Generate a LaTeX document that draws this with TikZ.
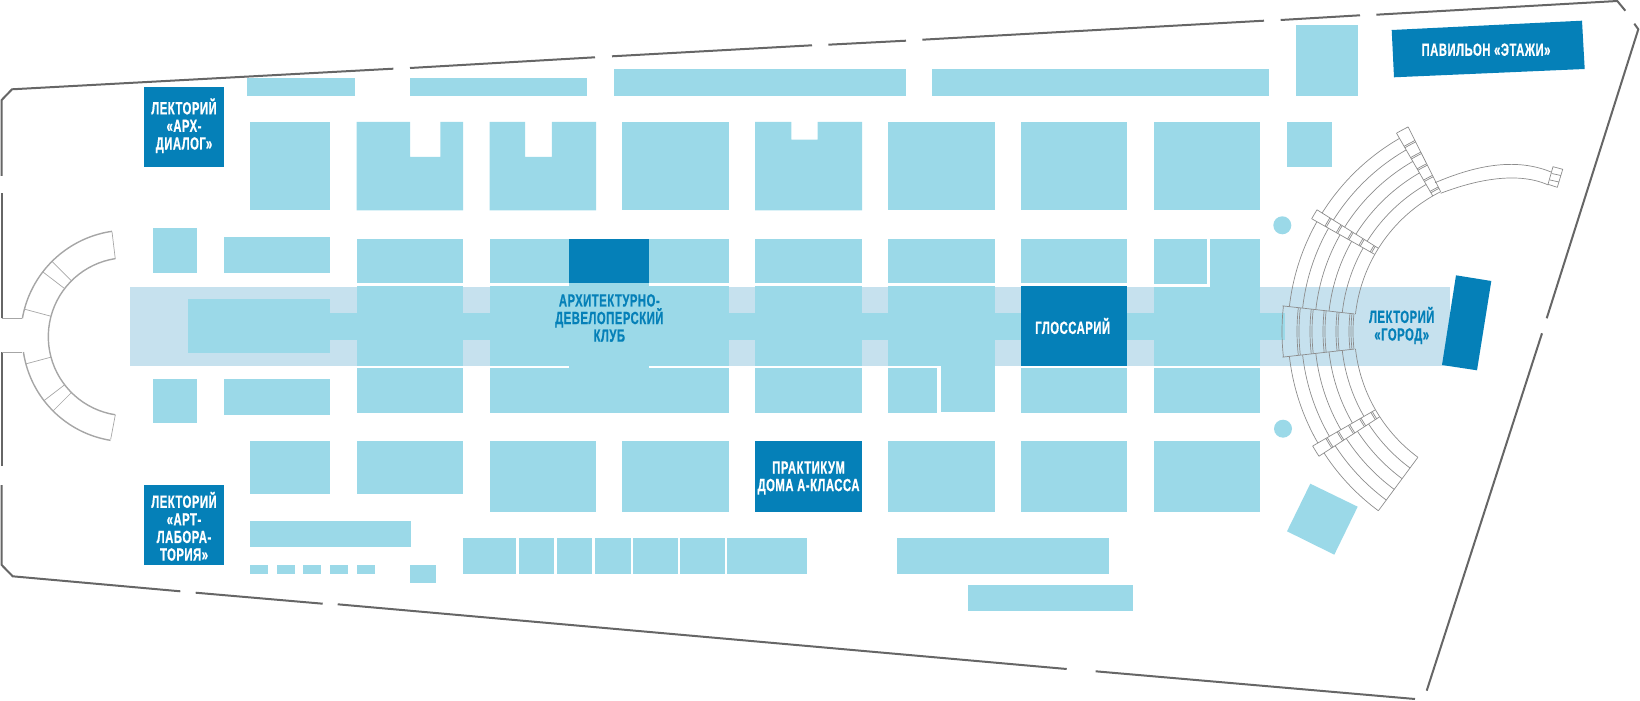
\documentclass[tikz,border=0pt]{standalone}
\usepackage{fontspec}
\setmainfont{Liberation Sans}
\newfontfamily\labfont[FakeStretch=0.64,LetterSpace=3,BoldFeatures={FakeBold=0.7}]{Liberation Sans}
\definecolor{cellblue}{HTML}{9BD9E8}
\definecolor{hallblue}{HTML}{C6E1EE}
\definecolor{darkblue}{HTML}{0580B8}
\definecolor{wallgray}{HTML}{666666}
\definecolor{tiergray}{HTML}{8C8C8C}
\definecolor{armgray}{HTML}{A6A6A6}
\tikzset{
  wall/.style={draw=wallgray,line width=1pt},
  tier/.style={draw=tiergray,line width=0.35pt},
  arm/.style={draw=armgray,line width=0.7pt},
  armthin/.style={draw=armgray,line width=0.35pt},
  whitelab/.style={text=white,font=\labfont\bfseries\fontsize{8.8}{8.8}\selectfont,align=center,inner sep=0pt},
  bluelab/.style={text=darkblue,font=\labfont\bfseries\fontsize{8.8}{8.8}\selectfont,align=center,inner sep=0pt}
}
\newcommand{\cell}[4]{\fill[cellblue] (#1,#2) rectangle (#3,#4);}
\newcommand{\dark}[4]{\fill[darkblue] (#1,#2) rectangle (#3,#4);}
% arcs of the right amphitheatre, image-space angles
\newcommand{\rarc}[3]{\draw[tier] plot[domain=#2:#3,samples=40] ({1511+(#1)*cos(\x)},{331.5+(#1)*sin(\x)});}
\newcommand{\rrad}[3]{\draw[tier] ({1511+(#2)*cos(#1)},{331.5+(#2)*sin(#1)}) -- ({1511+(#3)*cos(#1)},{331.5+(#3)*sin(#1)});}
% arcs of the left amphitheatre
\newcommand{\larc}[4][arm]{\draw[#1] plot[domain=#3:#4,samples=40] ({127.3+(#2)*cos(\x)},{336.7+(#2)*sin(\x)});}
\newcommand{\lrad}[3]{\draw[armthin] ({127.3+(#2)*cos(#1)},{336.7+(#2)*sin(#1)}) -- ({127.3+(#3)*cos(#1)},{336.7+(#3)*sin(#1)});}
\begin{document}
\begin{tikzpicture}[x=0.5pt,y=-0.5pt]
\useasboundingbox (0,0) rectangle (1640,701);
% central hall band
\fill[hallblue] (130,286.7) rectangle (1450,366);
\cell{188}{299}{330}{352.7}
\cell{330}{312.7}{1285}{340}
% top strip
\cell{247.4}{77.7}{354.6}{95.7}
\cell{410}{77.7}{586.8}{95.7}
\cell{613.5}{69}{906}{95.7}
\cell{932}{69}{1269.3}{95.7}
\cell{1295.7}{24.7}{1358}{96}
% row 1
\cell{250}{122}{330}{210.5}
\fill[cellblue] (356.7,122) -- (410,122) -- (410,157) -- (440.4,157) -- (440.4,122) -- (463,122) -- (463,210.5) -- (356.7,210.5) -- cycle;
\fill[cellblue] (489.5,122) -- (525,122) -- (525,157) -- (551.8,157) -- (551.8,122) -- (596,122) -- (596,210.5) -- (489.5,210.5) -- cycle;
\cell{622.4}{122}{729}{210.5}
\fill[cellblue] (755.2,122) -- (791.3,122) -- (791.3,139.7) -- (817.5,139.7) -- (817.5,122) -- (862,122) -- (862,210.5) -- (755.2,210.5) -- cycle;
\cell{888}{122}{994.7}{210.5}
\cell{1021}{122}{1127.3}{210.5}
\cell{1154}{122}{1260.3}{210.5}
\cell{1286.7}{122}{1331.5}{166.7}
% row 2
\cell{153}{228.3}{197.3}{272.7}
\cell{223.7}{237.3}{330}{272.7}
\cell{356.7}{239}{463}{283.3}
\cell{489.5}{239}{729}{283.3}
\cell{755.2}{239}{862}{283.3}
\cell{888}{239}{994.5}{283.3}
\cell{1021}{239}{1127.3}{283.3}
\cell{1154}{239}{1207.3}{284}
\cell{1210}{239}{1260.3}{288}
% band columns
\cell{356.7}{285.7}{463}{366}
\cell{489.5}{285.7}{729}{366}
\cell{569}{283}{649}{368.5}
\cell{755.2}{285.7}{862}{366}
\cell{888}{285.7}{994.5}{366}
\cell{1154}{286.7}{1260.3}{366}
% row 3
\cell{153}{379}{197.3}{423.3}
\cell{223.7}{379}{330}{414.7}
\cell{356.7}{368.3}{463}{412.7}
\cell{489.5}{368.3}{729}{412.7}
\cell{755.2}{368.3}{862}{412.7}
\cell{888}{368.3}{937}{412.7}
\cell{941}{365}{994.5}{412}
\cell{1021}{368.3}{1127.3}{412.7}
\cell{1154}{368.3}{1260.3}{412.7}
% row 4
\cell{250}{441}{330}{494}
\cell{356.7}{441}{463}{494}
\cell{489.5}{441}{596}{512}
\cell{622.2}{441}{728.7}{512}
\cell{888}{441}{994.6}{512}
\cell{1021}{441}{1127.3}{512}
\cell{1154}{441}{1260.3}{512}
% lower rows
\cell{250}{520.7}{411.3}{547.3}
\cell{250}{565}{268}{574}
\cell{277}{565}{295}{574}
\cell{303.3}{565}{321.3}{574}
\cell{330}{565}{348}{574}
\cell{356.7}{565}{374.7}{574}
\cell{410}{565}{436.3}{582.7}
\cell{462.9}{538}{516.2}{574}
\cell{518.5}{538}{554.3}{574}
\cell{557}{538}{592.4}{574}
\cell{594.7}{538}{630.5}{574}
\cell{632.8}{538}{677.8}{574}
\cell{680}{538}{724.6}{574}
\cell{726.9}{538}{806.8}{574}
\cell{896.8}{538}{1109.4}{574}
\cell{968}{585}{1133}{611}
% free shapes
\fill[cellblue] (1282.3,225.3) circle[radius=9];
\fill[cellblue] (1283,428.7) circle[radius=9];
\fill[cellblue] (1310.3,483.7) -- (1357.7,506.7) -- (1334.3,554.7) -- (1287,531.3) -- cycle;
% dark blocks
\dark{144}{86.7}{224}{166.7}
\dark{144}{485}{224}{565}
\dark{569}{238.5}{649}{283.3}
\dark{1021}{286}{1127.3}{366}
\dark{755}{441}{862}{512}
\fill[darkblue] (1456,275.3) -- (1491.3,281) -- (1477,370.3) -- (1442,365) -- cycle;
\fill[darkblue] (1391.7,30) -- (1582,20.7) -- (1584.7,69) -- (1394,77.3) -- cycle;
% walls
\draw[wall] (1.7,176) -- (1.7,100) -- (12,89.3) -- (393.3,68.7);
\draw[wall] (410,68) -- (595,57.3);
\draw[wall] (612,56.3) -- (812,45.3);
\draw[wall] (828.3,44.7) -- (906,40.7);
\draw[wall] (922.3,39.7) -- (1264,20.7);
\draw[wall] (1280.7,20) -- (1360,15.3);
\draw[wall] (1376.3,14.7) -- (1617.3,1) -- (1625.3,10.7);
\draw[wall] (1634.3,23.7) -- (1638.3,29.3) -- (1546.7,318.3);
\draw[wall] (1542,333.3) -- (1426.7,690.7);
\draw[wall] (1415,699) -- (1095.6,671.3);
\draw[wall] (1066.7,669) -- (337.7,604.3);
\draw[wall] (322.7,603.7) -- (195.7,592.7);
\draw[wall] (180.3,591.3) -- (12.7,576.3) -- (1.7,565) -- (1.7,485);
\draw[wall] (1.7,466) -- (1.7,352.3);
\draw[wall] (1.7,318.3) -- (1.7,193.3);
\draw[arm] (1.7,318.3) -- (21.7,318.3);
\draw[arm] (1.7,352.3) -- (21.7,352.3);
% left amphitheatre
\larc{106.5}{189.9}{261.7}
\larc{105}{171.6}{99.2}
\larc{79}{98.7}{261.2}
\draw[armthin] (112,231.7) -- (115.3,259);
\draw[armthin] (110.7,439.3) -- (115.3,415);
\lrad{195}{79}{106.5}
\lrad{217.5}{79}{106.5}
\lrad{225}{79}{106.5}
\lrad{165}{79}{105}
\lrad{142.5}{79}{105}
\lrad{135}{79}{105}
% right amphitheatre
\foreach \rr in {223,209.7,196.4,183.1,169.8,156.5}{
  \rarc{\rr}{212.1}{240}
  \rarc{\rr}{186.4}{209.5}
  \rarc{\rr}{150}{173.6}
  \rarc{\rr}{126.5}{147}
}
\rrad{126.5}{156.5}{223}
% central block
\rrad{186.4}{158}{230}
\rrad{173.6}{158}{230}
\rarc{158}{173.6}{186.4}
\rarc{229}{173.6}{186.4}
\foreach \rr in {213,200,187,174,161}{
  \rarc{\rr-1}{173.6}{186.4}
  \rarc{\rr+1}{173.6}{186.4}
}
% cross bands
\foreach \aa/\ab in {209.5/212.1,240/243.3,147/150}{
  \rrad{\aa}{156.5}{229}
  \rrad{\ab}{156.5}{229}
  \rarc{229}{\aa}{\ab}
  \rarc{156.5}{\aa}{\ab}
  \foreach \rr in {213,200,187,174,161}{
    \rarc{\rr-0.8}{\aa}{\ab}
    \rarc{\rr+0.8}{\aa}{\ab}
  }
}
% upper arm
\draw[tier] (1435,182.7) .. controls (1465,170) and (1510,155) .. (1551,172);
\draw[tier] (1440.7,193.3) .. controls (1470,182) and (1515,170) .. (1548.3,185);
\draw[tier] (1553,166.7) -- (1562.7,169.3) -- (1557.3,187.3) -- (1548,184.3) -- cycle;
\draw[tier] (1551.7,173.5) -- (1560.8,175.5);
\draw[tier] (1550,180) -- (1559,182);
% labels
\node[whitelab] (arh) at (184,125.7) {ЛЕКТОРИЙ\\«АРХ-\\ДИАЛОГ»};
\node[whitelab] (art) at (184,526.3) {ЛЕКТОРИЙ\\«АРТ-\\ЛАБОРА-\\ТОРИЯ»};
\node[bluelab] (club) at (609.3,318) {АРХИТЕКТУРНО-\\ДЕВЕЛОПЕРСКИЙ\\КЛУБ};
\node[whitelab] (gloss) at (1072.7,326) {ГЛОССАРИЙ};
\node[whitelab] (prak) at (808.6,478) {ПРАКТИКУМ\\ДОМА А-КЛАССА};
\node[bluelab] (gorod) at (1401.7,325.5) {ЛЕКТОРИЙ\\«ГОРОД»};
\node[whitelab] (etazh) at (1486,49.7) {ПАВИЛЬОН «ЭТАЖИ»};
\end{tikzpicture}
\end{document}
